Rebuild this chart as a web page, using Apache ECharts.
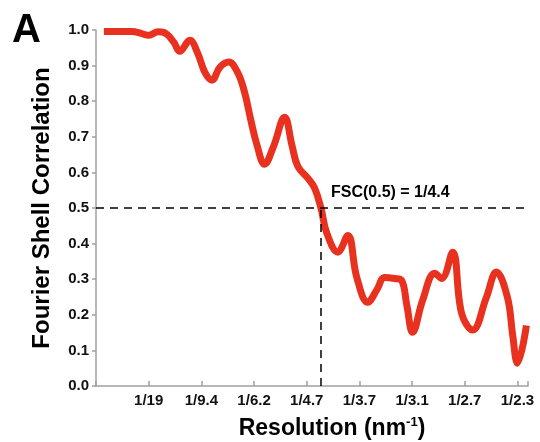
<!DOCTYPE html>
<html>
<head>
<meta charset="utf-8">
<script src="https://cdn.jsdelivr.net/npm/echarts@6/dist/echarts.min.js"></script>
<style>
  html, body { margin: 0; padding: 0; background: #fff; }
  #chart { width: 540px; height: 442px; }
</style>
</head>
<body>
<div id="chart"></div>
<script>
// x positions are in tick units: 1 = 1/19 nm^-1, 2 = 1/9.4, ... 8 = 1/2.3
const tickLabels = ['1/19', '1/9.4', '1/6.2', '1/4.7', '1/3.7', '1/3.1', '1/2.7', '1/2.3'];

const freqPos = [0.15, 0.42, 0.68, 0.87, 1.0, 1.18, 1.33, 1.48, 1.59, 1.78, 1.93, 2.07, 2.2, 2.35, 2.52,
  2.69, 2.82, 2.94, 3.05, 3.2, 3.37, 3.58, 3.72, 3.83, 4.02, 4.15, 4.27, 4.38, 4.59, 4.78, 4.95,
  5.16, 5.33, 5.48, 5.67, 5.8, 5.9, 6.01, 6.2, 6.43, 6.56, 6.77, 6.94, 7.15, 7.41, 7.6, 7.81,
  7.91, 8.0, 8.17];

const fscValues = [0.996, 0.996, 0.996, 0.99, 0.985, 0.995, 0.99, 0.965, 0.94, 0.971, 0.935, 0.88, 0.859, 0.895, 0.91,
  0.88, 0.825, 0.746, 0.68, 0.623, 0.673, 0.755, 0.676, 0.617, 0.584, 0.556, 0.5, 0.43, 0.376, 0.423, 0.305,
  0.235, 0.27, 0.305, 0.302, 0.297, 0.227, 0.151, 0.241, 0.317, 0.302, 0.376, 0.204, 0.157, 0.249, 0.32, 0.249,
  0.142, 0.064, 0.17];

const cutoffPos = 4.27;
const cutoffLabel = 'FSC(0.5) = 1/4.4';

const font = 'Liberation Sans, Arial, sans-serif';

var myChart = echarts.init(document.getElementById('chart'));

var option = {
    animation: false,
    title: {
        text: 'A',
        left: 7,
        top: 6,
        textStyle: { fontSize: 40, fontWeight: 'bold', color: '#000', fontFamily: font }
    },
    grid: { left: 96, right: 12, top: 30, bottom: 56, outerBoundsMode: 'none' },
    xAxis: {
        type: 'value',
        min: 0,
        max: 8.2,
        interval: 1,
        splitLine: { show: false },
        axisLine: { lineStyle: { color: '#a0a0a0', width: 1.5 } },
        axisTick: { inside: true, length: 5, lineStyle: { color: '#a0a0a0', width: 1.5 } },
        axisLabel: {
            margin: 7,
            fontSize: 15,
            fontWeight: 'bold',
            color: '#111',
            fontFamily: font,
            formatter: function (v) {
                if (Math.abs(v - Math.round(v)) < 1e-6 && v >= 1 && v <= 8) {
                    return tickLabels[Math.round(v) - 1];
                }
                return '';
            }
        },
        name: '{a|Resolution (nm}{s|-1}{a|)}',
        nameLocation: 'middle',
        nameGap: 30,
        nameTextStyle: {
            padding: [0, 0, 0, 40],
            rich: {
                a: { fontSize: 23, fontWeight: 'bold', color: '#000', fontFamily: font, lineHeight: 26 },
                s: { fontSize: 13, fontWeight: 'bold', color: '#000', fontFamily: font, verticalAlign: 'top', lineHeight: 26, padding: [0, 0, 10, 0] }
            }
        }
    },
    yAxis: {
        type: 'value',
        min: 0,
        max: 1,
        interval: 0.1,
        splitLine: { show: false },
        axisLine: { show: true, lineStyle: { color: '#a0a0a0', width: 1.5 } },
        axisTick: { show: true, length: 4, lineStyle: { color: '#a0a0a0', width: 1.5 } },
        axisLabel: {
            margin: 7,
            fontSize: 15,
            fontWeight: 'bold',
            color: '#111',
            fontFamily: font,
            formatter: function (v) { return v.toFixed(1); }
        },
        name: 'Fourier Shell Correlation',
        nameLocation: 'middle',
        nameGap: 42,
        nameTextStyle: { fontSize: 24, fontWeight: 'bold', color: '#000', fontFamily: font }
    },
    series: [
        {
            type: 'line',
            data: freqPos.map((x, i) => [x, fscValues[i]]),
            smooth: 0.4,
            showSymbol: false,
            lineStyle: { color: '#e8321f', width: 7 },
            markLine: {
                silent: true,
                symbol: 'none',
                label: { show: false },
                lineStyle: { color: '#000', width: 1.5, type: [8, 6] },
                data: [
                    [{ coord: [0, 0.5] }, { coord: [8.2, 0.5] }],
                    [{ coord: [cutoffPos, 0] }, { coord: [cutoffPos, 0.5] }]
                ]
            },
            markPoint: {
                silent: true,
                symbol: 'circle',
                symbolSize: 0,
                data: [{
                    coord: [cutoffPos, 0.5],
                    label: {
                        show: true,
                        formatter: cutoffLabel,
                        position: [10, -15],
                        align: 'left',
                        verticalAlign: 'middle',
                        fontSize: 16,
                        fontWeight: 'bold',
                        color: '#000',
                        fontFamily: font
                    }
                }]
            }
        }
    ]
};

myChart.setOption(option);
</script>
</body>
</html>
